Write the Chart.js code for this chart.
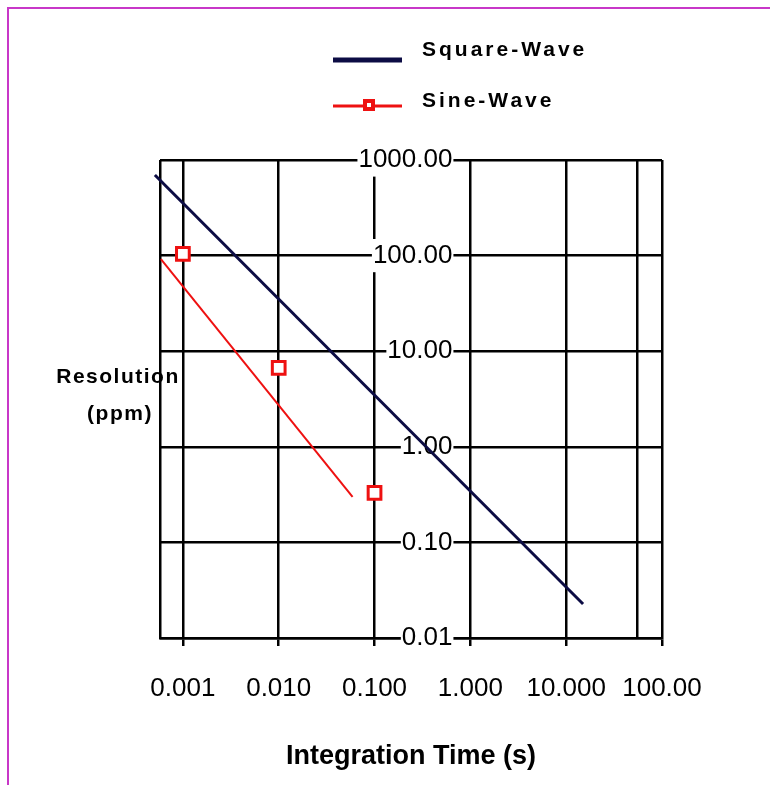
<!DOCTYPE html>
<html>
<head>
<meta charset="utf-8">
<script src="https://cdn.jsdelivr.net/npm/chart.js@4.4.0/dist/chart.umd.min.js"></script>
<style>
    body { margin: 0; background: #fff; overflow: hidden; }
    #moldura { position: absolute; left: 7px; top: 7px; width: 761px; height: 776px; border-top: 2px solid #c837c8; border-left: 2px solid #c837c8; }
    #caixa { position: absolute; left: 0; top: 0; width: 770px; height: 785px; }
</style>
</head>
<body>
<div id="moldura"></div>
<div id="caixa"><canvas id="grafico"></canvas></div>
<script>
// valores (eixos log-log)
const squareX = [0.00051, 15];
const squareY = [697, 0.0227];
const sineLineX = [0.00059, 0.059];
const sineLineY = [92, 0.30];
const sineX = [0.001, 0.01, 0.1];
const sineY = [104, 6.7, 0.33];

const xTicks = [0.001, 0.01, 0.1, 1, 10, 100];
const xLabels = ['0.001', '0.010', '0.100', '1.000', '10.000', '100.00'];
const xExtraLines = [0.000577, 55];
const yTicks = [0.01, 0.1, 1, 10, 100, 1000];
const yLabels = ['0.01', '0.10', '1.00', '10.00', '100.00', '1000.00'];

const corQuadrada = '#0c0c44';
const corSeno = '#ee1111';

function pontos(xs, ys) {
    return xs.map((x, i) => ({ x: x, y: ys[i] }));
}

// legenda desenhada a mao (uma entrada por linha)
const legendaPlugin = {
    id: 'legenda',
    afterDraw(chart) {
        const ctx = chart.ctx;
        const ds = chart.data.datasets;
        const itens = [
            { d: ds[0], ly: 60, ty: 50 },
            { d: ds[1], ly: 106, ty: 101, marcador: ds[2] }
        ];
        ctx.save();
        itens.forEach(item => {
            ctx.strokeStyle = item.d.borderColor;
            ctx.lineWidth = item.marcador ? 3 : 5;
            ctx.beginPath();
            ctx.moveTo(333, item.ly);
            ctx.lineTo(402, item.ly);
            ctx.stroke();
            if (item.marcador) {
                ctx.fillStyle = item.marcador.borderColor;
                ctx.fillRect(363, item.ly - 7, 12, 12);
                ctx.fillStyle = '#fff';
                ctx.fillRect(367, item.ly - 3, 4, 4);
            }
            ctx.fillStyle = '#000';
            ctx.font = 'bold 21px "Liberation Sans", Arial, sans-serif';
            ctx.letterSpacing = '3px';
            ctx.textAlign = 'left';
            ctx.textBaseline = 'middle';
            ctx.fillText(item.d.label, 422, item.ty);
        });
        // titulo do eixo y, horizontal a esquerda
        ctx.letterSpacing = '1.5px';
        ctx.textAlign = 'center';
        ctx.fillText('Resolution', 118, 377);
        ctx.fillText('(ppm)', 120, 414);
        ctx.letterSpacing = '0px';
        ctx.restore();
    }
};

const ctx1 = document.getElementById('grafico');

new Chart(ctx1, {
    type: 'scatter',
    data: {
        datasets: [
            {
                label: 'Square-Wave',
                data: pontos(squareX, squareY),
                showLine: true,
                borderColor: corQuadrada,
                borderWidth: 3,
                pointRadius: 0,
                clip: false
            },
            {
                label: 'Sine-Wave',
                data: pontos(sineLineX, sineLineY),
                showLine: true,
                borderColor: corSeno,
                borderWidth: 2,
                pointRadius: 0
            },
            {
                label: 'Sine-Wave',
                data: pontos(sineX, sineY),
                showLine: false,
                pointStyle: 'rect',
                pointRadius: 9,
                borderWidth: 3,
                borderColor: corSeno,
                backgroundColor: '#fff'
            }
        ]
    },
    options: {
        responsive: true,
        maintainAspectRatio: false,
        animation: false,
        layout: {
            padding: { left: 160, top: 160, right: 108, bottom: 0 }
        },
        plugins: {
            legend: { display: false },
            tooltip: { enabled: false }
        },
        scales: {
            x: {
                type: 'logarithmic',
                position: 'bottom',
                min: 0.000577,
                max: 100,
                afterBuildTicks: s => {
                    s.ticks = xExtraLines.concat(xTicks).sort((a, b) => a - b).map(v => ({ value: v }));
                },
                afterFit: s => { s.height = 147; },
                ticks: {
                    callback: v => {
                        const i = xTicks.indexOf(v);
                        return i >= 0 ? xLabels[i] : '';
                    },
                    autoSkip: false,
                    maxRotation: 0,
                    color: '#000',
                    padding: 27,
                    font: { family: '"Liberation Sans", Arial, sans-serif', size: 26 }
                },
                grid: {
                    color: '#000',
                    lineWidth: 2.5,
                    tickLength: 8,
                    tickColor: c => (c.tick && xTicks.indexOf(c.tick.value) >= 0) ? '#000' : 'rgba(0,0,0,0)'
                },
                border: { display: true, color: '#000', width: 2.5 },
                title: {
                    display: true,
                    text: 'Integration Time (s)',
                    color: '#000',
                    padding: { top: 0, bottom: 12 },
                    font: { family: '"Liberation Sans", Arial, sans-serif', size: 27, weight: 'bold' }
                }
            },
            y: {
                type: 'logarithmic',
                // rotulos terminam um pouco antes da linha vertical de x = 1
                position: { x: 0.65 },
                min: 0.01,
                max: 1000,
                afterBuildTicks: s => {
                    s.ticks = yTicks.map(v => ({ value: v }));
                },
                ticks: {
                    callback: v => {
                        const i = yTicks.indexOf(v);
                        return i >= 0 ? yLabels[i] : '';
                    },
                    color: '#000',
                    showLabelBackdrop: true,
                    backdropColor: '#fff',
                    backdropPadding: 1,
                    font: { family: '"Liberation Sans", Arial, sans-serif', size: 26 }
                },
                grid: { color: '#000', lineWidth: 2.5, drawTicks: false },
                border: { display: false }
            }
        }
    },
    plugins: [legendaPlugin]
});
</script>
</body>
</html>
